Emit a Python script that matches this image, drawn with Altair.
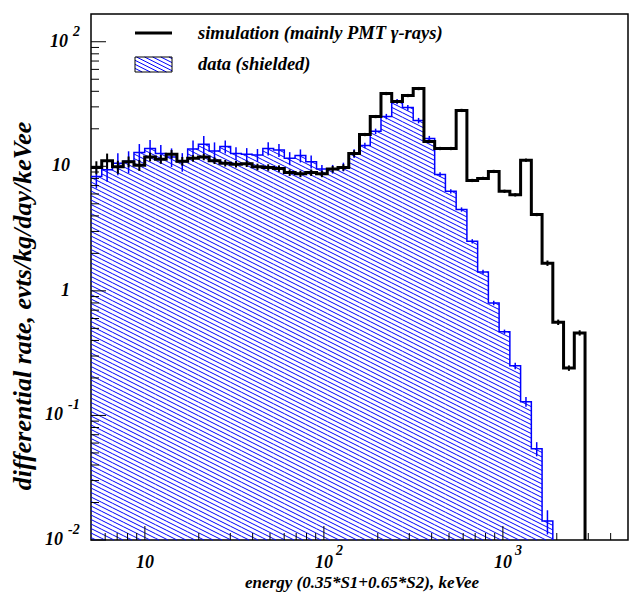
import altair as alt
import pandas as pd
import numpy as np

# ---------------- data ----------------
x_min, x_max = 5.0, 5000.0
n_bins = 50
y_min, y_max = 0.01, 167.0

# data (shielded), rate per log-bin, evts/kg/day/keVee
data_rate = [8.3, 9.4, 10.6, 11.0, 12.9, 13.9, 12.7, 11.9, 10.9, 13.8,
             15.0, 13.3, 14.4, 12.7, 12.5, 12.3, 13.9, 13.5, 11.6, 12.2,
             10.9, 9.5, 9.5, 9.9, 12.7, 14.7, 19.1, 25.1, 33.1, 29.6,
             23.3, 16.7, 8.6, 6.3, 4.5, 2.5, 1.42, 0.80, 0.47, 0.25,
             0.129, 0.054, 0.0142]
data_relerr = [0.20, 0.20, 0.20, 0.20, 0.17, 0.17, 0.17, 0.17, 0.17, 0.17,
               0.17, 0.17, 0.12, 0.12, 0.12, 0.12, 0.12, 0.12, 0.12, 0.12,
               0.12, 0.08, 0.08, 0.08, 0.08, 0.05, 0.05, 0.05, 0.05, 0.05,
               0.05, 0.05, 0.04, 0.04, 0.04, 0.04, 0.04, 0.04, 0.04, 0.06,
               0.09, 0.13, 0.22]

# simulation (mainly PMT gamma-rays)
sim_rate = [9.8, 11.1, 9.9, 10.9, 10.2, 11.9, 11.4, 12.5, 11.0, 11.6,
            11.9, 11.1, 10.6, 10.4, 10.5, 9.9, 9.8, 9.6, 8.9, 8.7,
            8.9, 8.7, 9.5, 9.8, 12.7, 18.0, 25.1, 38.4, 33.1, 37.0,
            42.1, 15.8, 13.9, 13.9, 28.1, 7.7, 8.0, 9.1, 6.3, 5.9,
            11.2, 4.1, 1.67, 0.56, 0.24, 0.46]
sim_relerr = [0.12, 0.14, 0.12, 0.10, 0.10, 0.08, 0.08, 0.08, 0.08, 0.06,
              0.06, 0.06, 0.06, 0.06, 0.06, 0.06, 0.06, 0.06, 0.06, 0.06,
              0.06, 0.06, 0.06, 0.06, 0.06, 0.03, 0.03, 0.03, 0.03, 0.03,
              0.03, 0.03, 0.03, 0.03, 0.03, 0.03, 0.03, 0.03, 0.03, 0.03,
              0.03, 0.03, 0.05, 0.05, 0.05, 0.05]

x_major = [10, 100, 1000]
x_major_exp = ["", "2", "3"]
x_minor = [6, 7, 8, 9, 20, 30, 40, 50, 60, 70, 80, 90,
           200, 300, 400, 500, 600, 700, 800, 900, 2000, 3000, 4000]
y_major = [0.01, 0.1, 1, 10, 100]
y_major_base = ["10", "10", "1", "10", "10"]
y_major_exp = ["-2", "-1", "", "", "2"]
y_minor = [0.02, 0.03, 0.04, 0.05, 0.06, 0.07, 0.08, 0.09,
           0.2, 0.3, 0.4, 0.5, 0.6, 0.7, 0.8, 0.9,
           2, 3, 4, 5, 6, 7, 8, 9,
           20, 30, 40, 50, 60, 70, 80, 90]

legend_sim = "simulation (mainly PMT \u03b3-rays)"
legend_data = "data (shielded)"
x_title = "energy (0.35*S1+0.65*S2), keVee"
y_title = "differential rate, evts/kg/day/keVee"

# ---------------- layout ----------------
W, H = 537, 526
FONT = "Liberation Serif"
BLUE = "#0000ff"

edges = x_min * (x_max / x_min) ** (np.arange(n_bins + 1) / n_bins)
centers = np.sqrt(edges[:-1] * edges[1:])

xs = alt.Scale(type="log", domain=[x_min, x_max], nice=False)
ys = alt.Scale(type="log", domain=[y_min, y_max], nice=False, clamp=True)


def step_df(vals):
    n = len(vals)
    return pd.DataFrame({"x": edges[:n + 1], "y": list(vals) + [y_min],
                         "o": np.arange(n + 1)})


def err_df(vals, rel):
    n = len(vals)
    v = np.array(vals)
    r = np.array(rel)
    return pd.DataFrame({"x": centers[:n], "lo": v * (1 - r), "hi": v * (1 + r)})


# hatch lines (screen slope 0.5, downward to the right) clipped to the histogram
Px = W / np.log10(x_max / x_min)
Py = H / np.log10(y_max / y_min)
K = 0.5
GAP = 4.5
u_edges = Px * np.log10(edges / x_min)


def to_x(u):
    return x_min * 10 ** (u / Px)


def to_y(s):
    return y_max * 10 ** (-s / Py)


def clip_line(s0, u0, u1, st, sb):
    ua = max(u0, (st - s0) / K)
    ub = min(u1, (sb - s0) / K)
    return (ua, ub) if ub > ua + 1e-9 else None


LB = (44, 81, 43, 58)   # legend hatch box (pixels inside the plot area)

hatch_rows = []
s0 = -K * W - GAP
while s0 < H:
    for i, v in enumerate(data_rate):
        seg = clip_line(s0, u_edges[i], u_edges[i + 1], Py * np.log10(y_max / v), H)
        if seg:
            hatch_rows.append((seg[0], s0 + K * seg[0], seg[1], s0 + K * seg[1]))
    s0 += GAP
s0 = -K * LB[1]
while s0 < LB[3]:
    seg = clip_line(s0, LB[0], LB[1], LB[2], LB[3])
    if seg:
        hatch_rows.append((seg[0], s0 + K * seg[0], seg[1], s0 + K * seg[1]))
    s0 += GAP * 0.9

hatch_df = pd.DataFrame({
    "x": [to_x(r[0]) for r in hatch_rows],
    "y": [to_y(r[1]) for r in hatch_rows],
    "x2": [to_x(r[2]) for r in hatch_rows],
    "y2": [to_y(r[3]) for r in hatch_rows],
})

# ---------------- layers ----------------
hatch_layer = alt.Chart(hatch_df).mark_rule(color=BLUE, strokeWidth=1).encode(
    x=alt.X("x:Q", scale=xs, axis=None), x2="x2:Q",
    y=alt.Y("y:Q", scale=ys, axis=None), y2="y2:Q")

data_line = alt.Chart(step_df(data_rate)).mark_line(
    color=BLUE, strokeWidth=1.5, interpolate="step-after").encode(
    x=alt.X("x:Q", scale=xs, axis=None),
    y=alt.Y("y:Q", scale=ys, axis=None), order="o:Q")

data_err = alt.Chart(err_df(data_rate, data_relerr)).mark_rule(
    color=BLUE, strokeWidth=1.5).encode(
    x=alt.X("x:Q", scale=xs, axis=None),
    y=alt.Y("lo:Q", scale=ys, axis=None), y2="hi:Q")

sim_line = alt.Chart(step_df(sim_rate)).mark_line(
    color="black", strokeWidth=3, interpolate="step-after").encode(
    x=alt.X("x:Q", scale=xs, axis=None),
    y=alt.Y("y:Q", scale=ys, axis=None), order="o:Q")

sim_err = alt.Chart(err_df(sim_rate, sim_relerr)).mark_rule(
    color="black", strokeWidth=2).encode(
    x=alt.X("x:Q", scale=xs, axis=None),
    y=alt.Y("lo:Q", scale=ys, axis=None), y2="hi:Q")

# ticks inside the frame
xt_major = alt.Chart(pd.DataFrame({"v": x_major})).mark_rule(color="black", strokeWidth=1).encode(
    x=alt.X("v:Q", scale=xs, axis=None), y=alt.value(H), y2=alt.value(H - 14))
xt_minor = alt.Chart(pd.DataFrame({"v": x_minor})).mark_rule(color="black", strokeWidth=1).encode(
    x=alt.X("v:Q", scale=xs, axis=None), y=alt.value(H), y2=alt.value(H - 7))
yt_major = alt.Chart(pd.DataFrame({"v": y_major})).mark_rule(color="black", strokeWidth=1).encode(
    y=alt.Y("v:Q", scale=ys, axis=None), x=alt.value(0), x2=alt.value(15))
yt_minor = alt.Chart(pd.DataFrame({"v": y_minor})).mark_rule(color="black", strokeWidth=1).encode(
    y=alt.Y("v:Q", scale=ys, axis=None), x=alt.value(0), x2=alt.value(8))

# tick labels
txt = dict(font=FONT, fontStyle="italic", fontWeight="bold", color="black")
xl_df = pd.DataFrame({"v": x_major, "base": ["10"] * len(x_major), "exp": x_major_exp})
xl_base = alt.Chart(xl_df).mark_text(fontSize=18, align="center", baseline="middle", **txt).encode(
    x=alt.X("v:Q", scale=xs, axis=None), y=alt.value(H + 23), text="base:N")
xl_exp = alt.Chart(xl_df).mark_text(fontSize=14, align="left", baseline="middle", dx=12, **txt).encode(
    x=alt.X("v:Q", scale=xs, axis=None), y=alt.value(H + 11), text="exp:N")

yl_df = pd.DataFrame({"v": y_major, "base": y_major_base, "exp": y_major_exp})
yl_df["bx"] = [-21 if e == "" else (-23 if len(e) == 1 else -28) for e in y_major_exp]
yl_layers = []
for bx in sorted(set(yl_df["bx"])):
    sub = yl_df[yl_df["bx"] == bx]
    yl_layers.append(alt.Chart(sub).mark_text(fontSize=18, align="right", baseline="middle", **txt).encode(
        y=alt.Y("v:Q", scale=ys, axis=None), x=alt.value(bx), text="base:N"))
    if (sub["exp"] != "").any():
        yl_layers.append(alt.Chart(sub).mark_text(fontSize=14, align="left", baseline="middle",
                                                  dy=-10, **txt).encode(
            y=alt.Y("v:Q", scale=ys, axis=None), x=alt.value(bx + 5), text="exp:N"))

one = pd.DataFrame({"a": [0]})
x_title_l = alt.Chart(one).mark_text(fontSize=17, align="center", baseline="middle", **txt).encode(
    x=alt.value(271), y=alt.value(H + 43), text=alt.value(x_title))
y_title_l = alt.Chart(one).mark_text(fontSize=26, align="center", baseline="middle", angle=270, **txt).encode(
    x=alt.value(-68), y=alt.value(292), text=alt.value(y_title))

# legend
leg_line = alt.Chart(one).mark_rule(color="black", strokeWidth=3).encode(
    x=alt.value(44), x2=alt.value(81), y=alt.value(19))
leg_box = alt.Chart(one).mark_rect(fill=None, stroke="black", strokeWidth=1).encode(
    x=alt.value(LB[0]), x2=alt.value(LB[1]), y=alt.value(LB[2]), y2=alt.value(LB[3]))
leg_t1 = alt.Chart(one).mark_text(fontSize=18.5, align="left", baseline="middle", **txt).encode(
    x=alt.value(107), y=alt.value(19), text=alt.value(legend_sim))
leg_t2 = alt.Chart(one).mark_text(fontSize=18.5, align="left", baseline="middle", **txt).encode(
    x=alt.value(107), y=alt.value(50), text=alt.value(legend_data))

chart = alt.layer(
    hatch_layer, data_line, data_err, sim_line, sim_err,
    xt_major, xt_minor, yt_major, yt_minor,
    xl_base, xl_exp, *yl_layers, x_title_l, y_title_l,
    leg_box, leg_line, leg_t1, leg_t2,
).properties(
    width=W, height=H,
    padding={"left": 83, "top": 6, "right": 7, "bottom": 53},
    autosize=alt.AutoSizeParams(type="none"),
).configure_view(stroke="black", strokeWidth=1.5)

chart.save("out.html", embed_options={"renderer": "svg", "actions": False})
